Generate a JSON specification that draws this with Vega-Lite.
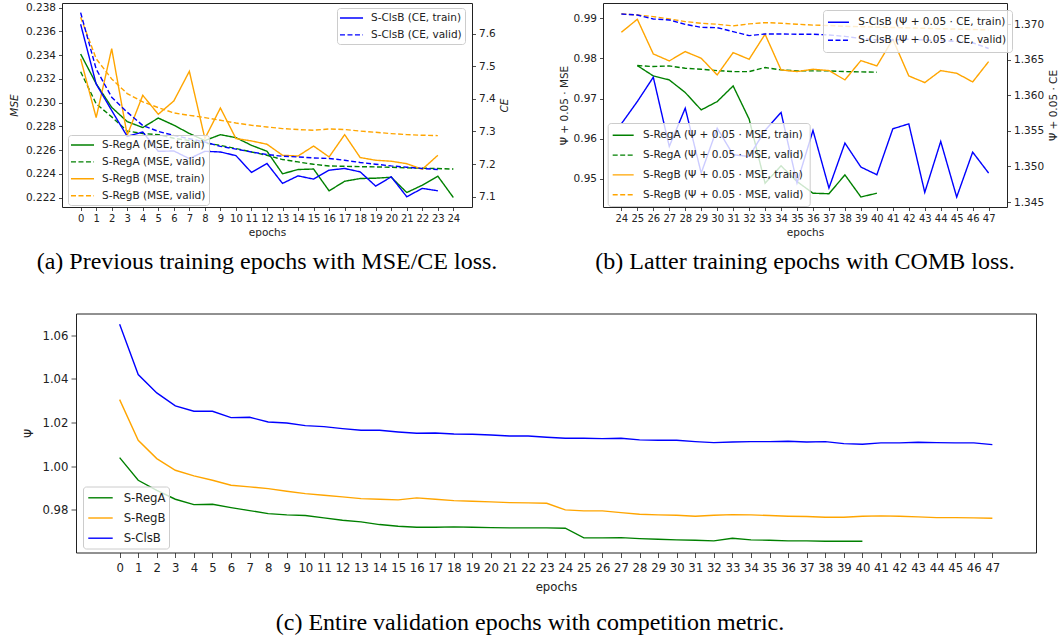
{
  "$schema": "https://vega.github.io/schema/vega-lite/v6.json",
  "background": "white",
  "padding": {"left": 8, "top": 2, "right": 0, "bottom": 0},
  "config": {
    "font": "DejaVu Sans",
    "view": {"stroke": "#222222", "strokeWidth": 1},
    "axis": {
      "grid": false, "domain": false, "tickColor": "#222222", "tickSize": 3.5, "tickWidth": 0.8,
      "labelFontSize": 10.5, "labelColor": "#222222", "labelPadding": 3, "labelOverlap": false,
      "labelFlush": false, "labelBound": false, "labelAngle": 0,
      "titleFontSize": 10.5, "titleFontWeight": "normal", "titleColor": "#222222"
    },
    "axisX": {"labelFontSize": 10},
    "legend": {
      "title": null, "orient": "none", "symbolStrokeWidth": 1.5, "labelFontSize": 10.5, "labelColor": "#222222",
      "labelLimit": 300, "fillColor": "rgba(255,255,255,0.8)", "strokeColor": "#cccccc", "cornerRadius": 3
    },
    "title": {"font": "Liberation Serif", "fontSize": 24, "fontWeight": "normal", "color": "black", "orient": "bottom", "anchor": "middle"},
    "line": {"strokeWidth": 1.4}
  },
  "datasets": {
    "pa": [
      {"epoch": 0, "ra_t": 0.2341, "ra_v": 0.2326, "rb_t": 0.2337, "rb_v": 0.2372, "cb_t": 7.6285, "cb_v": 7.664},
      {"epoch": 1, "ra_t": 0.2316, "ra_v": 0.2299, "rb_t": 0.22874, "rb_v": 0.2337, "cb_t": 7.4455, "cb_v": 7.4913},
      {"epoch": 2, "ra_t": 0.2296, "ra_v": 0.2288, "rb_t": 0.23455, "rb_v": 0.232, "cb_t": 7.3642, "cb_v": 7.4049},
      {"epoch": 3, "ra_t": 0.2284, "ra_v": 0.2276, "rb_t": 0.22725, "rb_v": 0.23076, "cb_t": 7.285, "cb_v": 7.3591},
      {"epoch": 4, "ra_t": 0.2279, "ra_v": 0.2274, "rb_t": 0.23062, "rb_v": 0.23006, "cb_t": 7.2982, "cb_v": 7.3185},
      {"epoch": 5, "ra_t": 0.2287, "ra_v": 0.2273, "rb_t": 0.22902, "rb_v": 0.22958, "cb_t": 7.2392, "cb_v": 7.3002},
      {"epoch": 6, "ra_t": 0.2281, "ra_v": 0.227, "rb_t": 0.23014, "rb_v": 0.22913, "cb_t": 7.2402, "cb_v": 7.288},
      {"epoch": 7, "ra_t": 0.2274, "ra_v": 0.2268, "rb_t": 0.23264, "rb_v": 0.22893, "cb_t": 7.2169, "cb_v": 7.2778},
      {"epoch": 8, "ra_t": 0.2268, "ra_v": 0.2266, "rb_t": 0.22697, "rb_v": 0.22874, "cb_t": 7.2392, "cb_v": 7.2677},
      {"epoch": 9, "ra_t": 0.2273, "ra_v": 0.2264, "rb_t": 0.22955, "rb_v": 0.22851, "cb_t": 7.2372, "cb_v": 7.2545},
      {"epoch": 10, "ra_t": 0.22705, "ra_v": 0.22613, "rb_t": 0.22697, "rb_v": 0.22828, "cb_t": 7.226, "cb_v": 7.246},
      {"epoch": 11, "ra_t": 0.2264, "ra_v": 0.22584, "rb_t": 0.22677, "rb_v": 0.22809, "cb_t": 7.1744, "cb_v": 7.2372},
      {"epoch": 12, "ra_t": 0.2259, "ra_v": 0.22556, "rb_t": 0.22649, "rb_v": 0.22795, "cb_t": 7.2018, "cb_v": 7.2293},
      {"epoch": 13, "ra_t": 0.224, "ra_v": 0.2252, "rb_t": 0.22556, "rb_v": 0.22781, "cb_t": 7.1409, "cb_v": 7.2241},
      {"epoch": 14, "ra_t": 0.22436, "ra_v": 0.225, "rb_t": 0.2255, "rb_v": 0.22773, "cb_t": 7.164, "cb_v": 7.222},
      {"epoch": 15, "ra_t": 0.2244, "ra_v": 0.2248, "rb_t": 0.22634, "rb_v": 0.22767, "cb_t": 7.154, "cb_v": 7.2189},
      {"epoch": 16, "ra_t": 0.22256, "ra_v": 0.22466, "rb_t": 0.22542, "rb_v": 0.22778, "cb_t": 7.1814, "cb_v": 7.2171},
      {"epoch": 17, "ra_t": 0.22337, "ra_v": 0.22463, "rb_t": 0.2273, "rb_v": 0.22773, "cb_t": 7.1866, "cb_v": 7.2119},
      {"epoch": 18, "ra_t": 0.2236, "ra_v": 0.2246, "rb_t": 0.22537, "rb_v": 0.2276, "cb_t": 7.1762, "cb_v": 7.2049},
      {"epoch": 19, "ra_t": 0.22363, "ra_v": 0.22458, "rb_t": 0.22514, "rb_v": 0.2275, "cb_t": 7.1326, "cb_v": 7.1997},
      {"epoch": 20, "ra_t": 0.22371, "ra_v": 0.22455, "rb_t": 0.22506, "rb_v": 0.22739, "cb_t": 7.161, "cb_v": 7.1945},
      {"epoch": 21, "ra_t": 0.22242, "ra_v": 0.2245, "rb_t": 0.22485, "rb_v": 0.2273, "cb_t": 7.1, "cb_v": 7.1906},
      {"epoch": 22, "ra_t": 0.22304, "ra_v": 0.22447, "rb_t": 0.22438, "rb_v": 0.22725, "cb_t": 7.1256, "cb_v": 7.1866},
      {"epoch": 23, "ra_t": 0.2238, "ra_v": 0.22444, "rb_t": 0.22556, "rb_v": 0.22722, "cb_t": 7.1183, "cb_v": 7.1835},
      {"epoch": 24, "ra_t": 0.222, "ra_v": 0.2244}
    ],
    "pb": [
      {"epoch": 24, "rb_t": 0.98651, "rb_v": 0.99108, "cb_t": 1.356, "cb_v": 1.37145},
      {"epoch": 25, "ra_t": 0.97822, "ra_v": 0.97822, "rb_t": 0.98975, "rb_v": 0.99083, "cb_t": 1.35914, "cb_v": 1.37131},
      {"epoch": 26, "ra_t": 0.97564, "ra_v": 0.97797, "rb_t": 0.98112, "rb_v": 0.99041, "cb_t": 1.36256, "cb_v": 1.37075},
      {"epoch": 27, "ra_t": 0.97465, "ra_v": 0.97813, "rb_t": 0.97938, "rb_v": 0.98983, "cb_t": 1.35282, "cb_v": 1.37061},
      {"epoch": 28, "ra_t": 0.9715, "ra_v": 0.97755, "rb_t": 0.9817, "rb_v": 0.98917, "cb_t": 1.3582, "cb_v": 1.37},
      {"epoch": 29, "ra_t": 0.96718, "ra_v": 0.9773, "rb_t": 0.98004, "rb_v": 0.98876, "cb_t": 1.34907, "cb_v": 1.36958},
      {"epoch": 30, "ra_t": 0.96925, "ra_v": 0.97697, "rb_t": 0.97589, "rb_v": 0.98851, "cb_t": 1.35539, "cb_v": 1.36953},
      {"epoch": 31, "ra_t": 0.97315, "ra_v": 0.97672, "rb_t": 0.98145, "rb_v": 0.98809, "cb_t": 1.35165, "cb_v": 1.36897},
      {"epoch": 32, "ra_t": 0.9649, "ra_v": 0.97672, "rb_t": 0.97979, "rb_v": 0.98859, "cb_t": 1.35141, "cb_v": 1.36841},
      {"epoch": 33, "ra_t": 0.94892, "ra_v": 0.97772, "rb_t": 0.98602, "rb_v": 0.98892, "cb_t": 1.35507, "cb_v": 1.36864},
      {"epoch": 34, "ra_t": 0.95324, "ra_v": 0.97714, "rb_t": 0.97714, "rb_v": 0.98876, "cb_t": 1.3576, "cb_v": 1.36864},
      {"epoch": 35, "ra_t": 0.94934, "ra_v": 0.97689, "rb_t": 0.97672, "rb_v": 0.98851, "cb_t": 1.34767, "cb_v": 1.3686},
      {"epoch": 36, "ra_t": 0.94643, "ra_v": 0.97689, "rb_t": 0.9773, "rb_v": 0.9883, "cb_t": 1.35507, "cb_v": 1.3686},
      {"epoch": 37, "ra_t": 0.9463, "ra_v": 0.97689, "rb_t": 0.97697, "rb_v": 0.9882, "cb_t": 1.34697, "cb_v": 1.3685},
      {"epoch": 38, "ra_t": 0.951, "ra_v": 0.97672, "rb_t": 0.97465, "rb_v": 0.988, "cb_t": 1.35329, "cb_v": 1.3683},
      {"epoch": 39, "ra_t": 0.9455, "ra_v": 0.97664, "rb_t": 0.97946, "rb_v": 0.9879, "cb_t": 1.34992, "cb_v": 1.368},
      {"epoch": 40, "ra_t": 0.94643, "ra_v": 0.97656, "rb_t": 0.97813, "rb_v": 0.9878, "cb_t": 1.34884, "cb_v": 1.3678},
      {"epoch": 41, "rb_t": 0.98477, "rb_v": 0.9877, "cb_t": 1.3553, "cb_v": 1.3678},
      {"epoch": 42, "rb_t": 0.97564, "rb_v": 0.9876, "cb_t": 1.356, "cb_v": 1.3679},
      {"epoch": 43, "rb_t": 0.97398, "rb_v": 0.9875, "cb_t": 1.34636, "cb_v": 1.3678},
      {"epoch": 44, "rb_t": 0.97697, "rb_v": 0.9874, "cb_t": 1.35352, "cb_v": 1.3677},
      {"epoch": 45, "rb_t": 0.9763, "rb_v": 0.9873, "cb_t": 1.3457, "cb_v": 1.3676},
      {"epoch": 46, "rb_t": 0.97415, "rb_v": 0.9872, "cb_t": 1.35202, "cb_v": 1.3674},
      {"epoch": 47, "rb_t": 0.97921, "rb_v": 0.9871, "cb_t": 1.34907, "cb_v": 1.3666}
    ],
    "pc": [
      {"epoch": 0, "ra": 1.00386, "rb": 1.03048, "cb": 1.06505},
      {"epoch": 1, "ra": 0.99346, "rb": 1.01182, "cb": 1.04195},
      {"epoch": 2, "ra": 0.98887, "rb": 1.0034, "cb": 1.03354},
      {"epoch": 3, "ra": 0.98474, "rb": 0.99805, "cb": 1.02757},
      {"epoch": 4, "ra": 0.98229, "rb": 0.99545, "cb": 1.02512},
      {"epoch": 5, "ra": 0.98245, "rb": 0.99346, "cb": 1.02512},
      {"epoch": 6, "ra": 0.98092, "rb": 0.99117, "cb": 1.02222},
      {"epoch": 7, "ra": 0.97954, "rb": 0.9904, "cb": 1.02237},
      {"epoch": 8, "ra": 0.97816, "rb": 0.98964, "cb": 1.02023},
      {"epoch": 9, "ra": 0.97755, "rb": 0.98841, "cb": 1.01977},
      {"epoch": 10, "ra": 0.97725, "rb": 0.98734, "cb": 1.01855},
      {"epoch": 11, "ra": 0.97618, "rb": 0.98658, "cb": 1.01809},
      {"epoch": 12, "ra": 0.97511, "rb": 0.98581, "cb": 1.01717},
      {"epoch": 13, "ra": 0.97434, "rb": 0.98505, "cb": 1.0164},
      {"epoch": 14, "ra": 0.97312, "rb": 0.98474, "cb": 1.0164},
      {"epoch": 15, "ra": 0.97235, "rb": 0.98444, "cb": 1.01564},
      {"epoch": 16, "ra": 0.9719, "rb": 0.98535, "cb": 1.01503},
      {"epoch": 17, "ra": 0.9719, "rb": 0.98474, "cb": 1.01518},
      {"epoch": 18, "ra": 0.97205, "rb": 0.98413, "cb": 1.01472},
      {"epoch": 19, "ra": 0.9719, "rb": 0.98383, "cb": 1.01457},
      {"epoch": 20, "ra": 0.97174, "rb": 0.98352, "cb": 1.01426},
      {"epoch": 21, "ra": 0.97159, "rb": 0.98321, "cb": 1.0138},
      {"epoch": 22, "ra": 0.97159, "rb": 0.98306, "cb": 1.0138},
      {"epoch": 23, "ra": 0.97159, "rb": 0.98291, "cb": 1.01319},
      {"epoch": 24, "ra": 0.97144, "rb": 0.97985, "cb": 1.01273},
      {"epoch": 25, "ra": 0.967, "rb": 0.97939, "cb": 1.01273},
      {"epoch": 26, "ra": 0.967, "rb": 0.97939, "cb": 1.01258},
      {"epoch": 27, "ra": 0.96715, "rb": 0.97862, "cb": 1.01273},
      {"epoch": 28, "ra": 0.96669, "rb": 0.97786, "cb": 1.012},
      {"epoch": 29, "ra": 0.96639, "rb": 0.97755, "cb": 1.01182},
      {"epoch": 30, "ra": 0.96608, "rb": 0.9774, "cb": 1.01182},
      {"epoch": 31, "ra": 0.96593, "rb": 0.97694, "cb": 1.0112},
      {"epoch": 32, "ra": 0.96562, "rb": 0.9774, "cb": 1.01075},
      {"epoch": 33, "ra": 0.96685, "rb": 0.9777, "cb": 1.01105},
      {"epoch": 34, "ra": 0.96608, "rb": 0.97755, "cb": 1.0112},
      {"epoch": 35, "ra": 0.96593, "rb": 0.97725, "cb": 1.0112},
      {"epoch": 36, "ra": 0.96562, "rb": 0.97694, "cb": 1.01136},
      {"epoch": 37, "ra": 0.96562, "rb": 0.97679, "cb": 1.01105},
      {"epoch": 38, "ra": 0.96547, "rb": 0.97648, "cb": 1.0112},
      {"epoch": 39, "ra": 0.96547, "rb": 0.97648, "cb": 1.01029},
      {"epoch": 40, "ra": 0.96547, "rb": 0.97694, "cb": 1.00998},
      {"epoch": 41, "rb": 0.9771, "cb": 1.0106},
      {"epoch": 42, "rb": 0.97694, "cb": 1.0106},
      {"epoch": 43, "rb": 0.97663, "cb": 1.0109},
      {"epoch": 44, "rb": 0.97633, "cb": 1.01075},
      {"epoch": 45, "rb": 0.97633, "cb": 1.0106},
      {"epoch": 46, "rb": 0.97618, "cb": 1.0106},
      {"epoch": 47, "rb": 0.97602, "cb": 1.00983}
    ]
  },
  "spacing": 35.5,
  "resolve": {"scale": {"color": "independent", "strokeDash": "independent"}, "legend": {"color": "independent", "strokeDash": "independent"}},
  "vconcat": [
    {
      "spacing": 47,
      "hconcat": [
        {
          "width": 410,
          "height": 204,
          "title": {"text": "(a) Previous training epochs with MSE/CE loss.", "offset": 12},
          "data": {"name": "pa"},
          "encoding": {
            "x": {
              "field": "epoch", "type": "quantitative",
              "scale": {"domain": [-1.2, 25.2], "nice": false, "zero": false},
              "axis": {"title": "epochs", "titlePadding": 4, "values": [0,1,2,3,4,5,6,7,8,9,10,11,12,13,14,15,16,17,18,19,20,21,22,23,24]}
            }
          },
          "layer": [
            {
              "transform": [{"fold": ["ra_t", "ra_v", "rb_t", "rb_v"], "as": ["s", "v"]}],
              "mark": {"type": "line", "clip": true},
              "encoding": {
                "y": {
                  "field": "v", "type": "quantitative",
                  "scale": {"domain": [0.2212, 0.2384], "nice": false, "zero": false},
                  "axis": {"title": "MSE", "titleFontStyle": "italic", "format": ".3f", "titlePadding": 6,
                    "values": [0.222, 0.224, 0.226, 0.228, 0.23, 0.232, 0.234, 0.236, 0.238]}
                },
                "color": {
                  "field": "s", "type": "nominal",
                  "scale": {"domain": ["ra_t", "ra_v", "rb_t", "rb_v"], "range": ["#008000", "#008000", "#ffa500", "#ffa500"]},
                  "legend": {"legendX": 6, "legendY": 132, "symbolType": "M-1.17,0H2.67", "symbolSize": 144, "labelOffset": 17, "rowPadding": 3.9, "padding": 3,
                    "labelExpr": "datum.value == 'ra_t' ? 'S-RegA (MSE, train)' : datum.value == 'ra_v' ? 'S-RegA (MSE, valid)' : datum.value == 'rb_t' ? 'S-RegB (MSE, train)' : 'S-RegB (MSE, valid)'"}
                },
                "strokeDash": {
                  "field": "s", "type": "nominal",
                  "scale": {"domain": ["ra_t", "ra_v", "rb_t", "rb_v"], "range": [[1, 0], [5, 2.5], [1, 0], [5, 2.5]]},
                  "legend": {"legendX": 6, "legendY": 132, "symbolType": "M-1.17,0H2.67", "symbolSize": 144, "labelOffset": 17, "rowPadding": 3.9, "padding": 3,
                    "labelExpr": "datum.value == 'ra_t' ? 'S-RegA (MSE, train)' : datum.value == 'ra_v' ? 'S-RegA (MSE, valid)' : datum.value == 'rb_t' ? 'S-RegB (MSE, train)' : 'S-RegB (MSE, valid)'"}
                }
              }
            },
            {
              "transform": [{"fold": ["cb_t", "cb_v"], "as": ["s", "v"]}],
              "mark": {"type": "line", "clip": true},
              "encoding": {
                "y": {
                  "field": "v", "type": "quantitative",
                  "scale": {"domain": [7.0686, 7.6936], "nice": false, "zero": false},
                  "axis": {"orient": "right", "title": "CE", "titleFontStyle": "italic", "titleAngle": 270, "titleBaseline": "top", "format": ".1f", "titlePadding": 4,
                    "values": [7.1, 7.2, 7.3, 7.4, 7.5, 7.6]}
                },
                "color": {
                  "field": "s", "type": "nominal",
                  "scale": {"domain": ["cb_t", "cb_v"], "range": ["#0000ff", "#0000ff"]},
                  "legend": {"legendX": 275, "legendY": 5, "symbolType": "M-1.17,0H2.67", "symbolSize": 144, "labelOffset": 17, "rowPadding": 3.9, "padding": 3,
                    "labelExpr": "datum.value == 'cb_t' ? 'S-ClsB (CE, train)' : 'S-ClsB (CE, valid)'"}
                },
                "strokeDash": {
                  "field": "s", "type": "nominal",
                  "scale": {"domain": ["cb_t", "cb_v"], "range": [[1, 0], [5, 2.5]]},
                  "legend": {"legendX": 275, "legendY": 5, "symbolType": "M-1.17,0H2.67", "symbolSize": 144, "labelOffset": 17, "rowPadding": 3.9, "padding": 3,
                    "labelExpr": "datum.value == 'cb_t' ? 'S-ClsB (CE, train)' : 'S-ClsB (CE, valid)'"}
                }
              }
            }
          ],
          "resolve": {"scale": {"y": "independent", "color": "independent", "strokeDash": "independent"}}
        },
        {
          "width": 404,
          "height": 204,
          "title": {"text": "(b) Latter training epochs with COMB loss.", "offset": 12},
          "data": {"name": "pb"},
          "encoding": {
            "x": {
              "field": "epoch", "type": "quantitative",
              "scale": {"domain": [22.85, 48.15], "nice": false, "zero": false},
              "axis": {"title": "epochs", "titlePadding": 4, "values": [24,25,26,27,28,29,30,31,32,33,34,35,36,37,38,39,40,41,42,43,44,45,46,47]}
            }
          },
          "layer": [
            {
              "transform": [{"fold": ["ra_t", "ra_v", "rb_t", "rb_v"], "as": ["s", "v"]}],
              "mark": {"type": "line", "clip": true},
              "encoding": {
                "y": {
                  "field": "v", "type": "quantitative",
                  "scale": {"domain": [0.943, 0.9938], "nice": false, "zero": false},
                  "axis": {"title": "Ψ + 0.05 · MSE", "format": ".2f", "titlePadding": 4, "values": [0.95, 0.96, 0.97, 0.98, 0.99]}
                },
                "color": {
                  "field": "s", "type": "nominal",
                  "scale": {"domain": ["ra_t", "ra_v", "rb_t", "rb_v"], "range": ["#008000", "#008000", "#ffa500", "#ffa500"]},
                  "legend": {"legendX": 4.7, "legendY": 120, "symbolType": "M-1.22,0H2.28", "symbolSize": 144, "labelOffset": 16, "rowPadding": 6.8, "padding": 5.3,
                    "labelExpr": "datum.value == 'ra_t' ? 'S-RegA (Ψ + 0.05 · MSE, train)' : datum.value == 'ra_v' ? 'S-RegA (Ψ + 0.05 · MSE, valid)' : datum.value == 'rb_t' ? 'S-RegB (Ψ + 0.05 · MSE, train)' : 'S-RegB (Ψ + 0.05 · MSE, valid)'"}
                },
                "strokeDash": {
                  "field": "s", "type": "nominal",
                  "scale": {"domain": ["ra_t", "ra_v", "rb_t", "rb_v"], "range": [[1, 0], [5, 2.5], [1, 0], [5, 2.5]]},
                  "legend": {"legendX": 4.7, "legendY": 120, "symbolType": "M-1.22,0H2.28", "symbolSize": 144, "labelOffset": 16, "rowPadding": 6.8, "padding": 5.3,
                    "labelExpr": "datum.value == 'ra_t' ? 'S-RegA (Ψ + 0.05 · MSE, train)' : datum.value == 'ra_v' ? 'S-RegA (Ψ + 0.05 · MSE, valid)' : datum.value == 'rb_t' ? 'S-RegB (Ψ + 0.05 · MSE, train)' : 'S-RegB (Ψ + 0.05 · MSE, valid)'"}
                }
              }
            },
            {
              "transform": [{"fold": ["cb_t", "cb_v"], "as": ["s", "v"]}],
              "mark": {"type": "line", "clip": true},
              "encoding": {
                "y": {
                  "field": "v", "type": "quantitative",
                  "scale": {"domain": [1.3443, 1.373], "nice": false, "zero": false},
                  "axis": {"orient": "right", "title": "Ψ + 0.05 · CE", "titleAngle": 270, "titleBaseline": "top", "format": ".3f", "titlePadding": 5,
                    "values": [1.345, 1.35, 1.355, 1.36, 1.365, 1.37]}
                },
                "color": {
                  "field": "s", "type": "nominal",
                  "scale": {"domain": ["cb_t", "cb_v"], "range": ["#0000ff", "#0000ff"]},
                  "legend": {"legendX": 220, "legendY": 7, "symbolType": "M-1.22,0H2.28", "symbolSize": 144, "labelOffset": 16, "rowPadding": 5, "padding": 5.3,
                    "labelExpr": "datum.value == 'cb_t' ? 'S-ClsB (Ψ + 0.05 · CE, train)' : 'S-ClsB (Ψ + 0.05 · CE, valid)'"}
                },
                "strokeDash": {
                  "field": "s", "type": "nominal",
                  "scale": {"domain": ["cb_t", "cb_v"], "range": [[1, 0], [5, 2.5]]},
                  "legend": {"legendX": 220, "legendY": 7, "symbolType": "M-1.22,0H2.28", "symbolSize": 144, "labelOffset": 16, "rowPadding": 5, "padding": 5.3,
                    "labelExpr": "datum.value == 'cb_t' ? 'S-ClsB (Ψ + 0.05 · CE, train)' : 'S-ClsB (Ψ + 0.05 · CE, valid)'"}
                }
              }
            }
          ],
          "resolve": {"scale": {"y": "independent", "color": "independent", "strokeDash": "independent"}}
        }
      ]
    },
    {
      "spacing": 13,
      "bounds": "flush",
      "resolve": {"scale": {"color": "independent"}, "legend": {"color": "independent"}},
      "hconcat": [
        {
          "width": 1,
          "height": 1,
          "view": {"stroke": null},
          "data": {"values": [{"k": 0}]},
          "mark": {"type": "point", "opacity": 0}
        },
        {
          "width": 960,
          "height": 239,
          "title": {"text": "(c) Entire validation epochs with competition metric.", "offset": 18, "dx": -26},
          "data": {"name": "pc"},
          "transform": [{"fold": ["ra", "rb", "cb"], "as": ["s", "v"]}],
          "mark": {"type": "line", "clip": true},
          "encoding": {
            "x": {
              "field": "epoch", "type": "quantitative",
              "scale": {"domain": [-2.35, 49.35], "nice": false, "zero": false},
              "axis": {"title": "epochs", "titlePadding": 8, "labelFontSize": 11.7, "titleFontSize": 11.7, "tickSize": 5, "labelPadding": 4.5,
                "values": [0,1,2,3,4,5,6,7,8,9,10,11,12,13,14,15,16,17,18,19,20,21,22,23,24,25,26,27,28,29,30,31,32,33,34,35,36,37,38,39,40,41,42,43,44,45,46,47]}
            },
            "y": {
              "field": "v", "type": "quantitative",
              "scale": {"domain": [0.9603, 1.07], "nice": false, "zero": false},
              "axis": {"title": "Ψ", "format": ".2f", "labelFontSize": 11.7, "titleFontSize": 11.7, "tickSize": 5, "titlePadding": 7, "values": [0.98, 1.0, 1.02, 1.04, 1.06]}
            },
            "color": {
              "field": "s", "type": "nominal",
              "scale": {"domain": ["ra", "rb", "cb"], "range": ["#008000", "#ffa500", "#0000ff"]},
              "legend": {"legendX": 7, "legendY": 173, "symbolType": "M-0.86,0H2.63", "symbolSize": 196, "labelOffset": 21.4, "rowPadding": 5.2, "padding": 3.3, "labelFontSize": 11.7,
                "labelExpr": "datum.value == 'ra' ? 'S-RegA' : datum.value == 'rb' ? 'S-RegB' : 'S-ClsB'"}
            }
          }
        }
      ]
    }
  ]
}
